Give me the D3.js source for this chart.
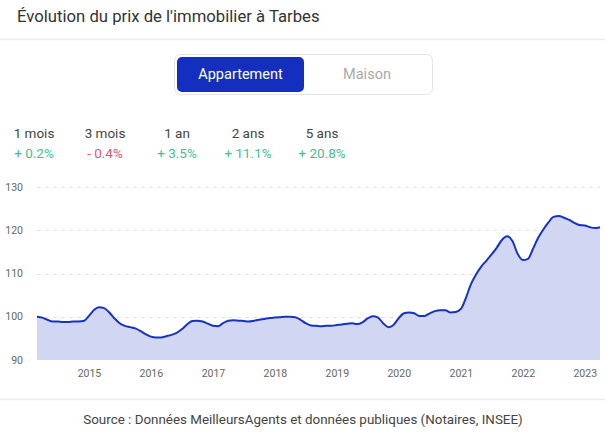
<!DOCTYPE html>
<html><head><meta charset="utf-8">
<script src="https://cdn.jsdelivr.net/npm/d3@7"></script>
<style>
html,body{margin:0;padding:0;background:#fff;}
svg{display:block;font-family:Roboto,"Noto Sans",sans-serif;}
</style></head>
<body>
<script>
const title = "Évolution du prix de l'immobilier à Tarbes";
const tabs = ["Appartement", "Maison"];
const periods = ["1 mois", "3 mois", "1 an", "2 ans", "5 ans"];
const changes = ["+ 0.2%", "- 0.4%", "+ 3.5%", "+ 11.1%", "+ 20.8%"];
const changeSign = [1, -1, 1, 1, 1];
const yTicks = [90, 100, 110, 120, 130];
const xTickYears = [2015, 2016, 2017, 2018, 2019, 2020, 2021, 2022, 2023];
const startMonth = "2014-03";
const values = [
100.0,99.8,99.3,98.9,98.9,98.8,98.8,98.9,98.9,99.0,
100.2,101.6,102.2,102.0,101.0,99.6,98.5,97.9,97.6,97.3,
96.7,96.0,95.4,95.2,95.2,95.5,95.8,96.3,97.1,98.2,
99.0,99.1,98.9,98.4,97.9,97.8,98.5,99.1,99.2,99.1,
99.0,98.9,99.1,99.3,99.5,99.7,99.8,99.9,100.0,100.0,
99.9,99.3,98.5,98.0,97.9,97.8,97.9,97.9,98.1,98.2,
98.4,98.5,98.3,98.7,99.6,100.1,99.8,98.5,97.6,98.1,
99.7,100.8,101.0,100.8,100.2,100.2,100.8,101.3,101.5,101.5,
101.0,101.1,101.8,104.5,107.5,109.8,111.6,113.0,114.4,116.0,
117.8,118.6,117.5,114.6,113.1,113.4,115.6,118.2,120.1,121.8,
123.1,123.3,122.9,122.4,121.7,121.2,121.1,120.7,120.5,120.7
];
const source = "Source : Données MeilleursAgents et données publiques (Notaires, INSEE)";

const W = 605, H = 433;
const svg = d3.select("body").append("svg").attr("width", W).attr("height", H);

// header
svg.append("text").attr("x", 17).attr("y", 22).attr("font-size", 16.7).attr("fill", "#333").text(title);
svg.append("line").attr("x1", 0).attr("x2", W).attr("y1", 39.5).attr("y2", 39.5).attr("stroke", "#ebebeb").attr("stroke-width", 1.5);

// toggle
svg.append("rect").attr("x", 174.5).attr("y", 54.5).attr("width", 258).attr("height", 40).attr("rx", 6)
  .attr("fill", "#fff").attr("stroke", "#e3e3e3");
svg.append("rect").attr("x", 177).attr("y", 57).attr("width", 127).attr("height", 35).attr("rx", 5).attr("fill", "#142fbf");
svg.append("text").attr("x", 240.5).attr("y", 78.5).attr("text-anchor", "middle").attr("font-size", 14.5).attr("fill", "#fff").text(tabs[0]);
svg.append("text").attr("x", 367).attr("y", 78.5).attr("text-anchor", "middle").attr("font-size", 14.5).attr("fill", "#aaa").text(tabs[1]);

// stats
const statX = [34, 105, 177, 248, 322];
periods.forEach((p, i) => {
  svg.append("text").attr("x", statX[i]).attr("y", 138).attr("text-anchor", "middle").attr("font-size", 13.5).attr("fill", "#444").text(p);
  svg.append("text").attr("x", statX[i]).attr("y", 158).attr("text-anchor", "middle").attr("font-size", 13.5)
    .attr("fill", changeSign[i] > 0 ? "#3cc48e" : "#f4506a").text(changes[i]);
});

// chart
const parse = d3.timeParse("%Y-%m");
const t0 = parse(startMonth);
const data = values.map((v, i) => ({date: d3.timeMonth.offset(t0, i), v}));
const x = d3.scaleTime().domain([t0, data[data.length - 1].date]).range([37, 600]);
const y = d3.scaleLinear().domain([90, 130]).range([360, 187]);

const grid = svg.append("g");
yTicks.forEach(t => {
  if (t !== 90) grid.append("line").attr("x1", 37).attr("x2", 600).attr("y1", Math.round(y(t)) + 0.5).attr("y2", Math.round(y(t)) + 0.5)
    .attr("stroke", "#e2e2e2").attr("stroke-dasharray", "4,4");
  grid.append("text").attr("x", 23).attr("y", y(t)).attr("dy", "0.35em").attr("text-anchor", "end")
    .attr("font-size", 10.5).attr("fill", "#666").text(t);
});

const area = d3.area().x(d => x(d.date)).y0(y(90)).y1(d => y(d.v)).curve(d3.curveMonotoneX);
const line = d3.line().x(d => x(d.date)).y(d => y(d.v)).curve(d3.curveMonotoneX);
svg.append("path").datum(data).attr("d", area).attr("fill", "#d1d6f3");
svg.append("path").datum(data).attr("d", line).attr("fill", "none").attr("stroke", "#1732c3").attr("stroke-width", 2);

const xAxis = svg.append("g").attr("transform", "translate(0,360)")
  .call(d3.axisBottom(x).tickValues(xTickYears.map(yy => new Date(yy, 0, 1))).tickFormat(d3.timeFormat("%Y")).tickSize(0).tickPadding(10));
xAxis.select(".domain").remove();
xAxis.selectAll("text").attr("font-size", 10.5).attr("fill", "#666").attr("font-family", "Roboto,'Noto Sans',sans-serif");

// footer
svg.append("line").attr("x1", 0).attr("x2", W).attr("y1", 399.5).attr("y2", 399.5).attr("stroke", "#ebebeb").attr("stroke-width", 1.5);
svg.append("text").attr("x", 303).attr("y", 423.5).attr("text-anchor", "middle").attr("font-size", 13.4).attr("fill", "#444").text(source);
</script>
</body></html>
